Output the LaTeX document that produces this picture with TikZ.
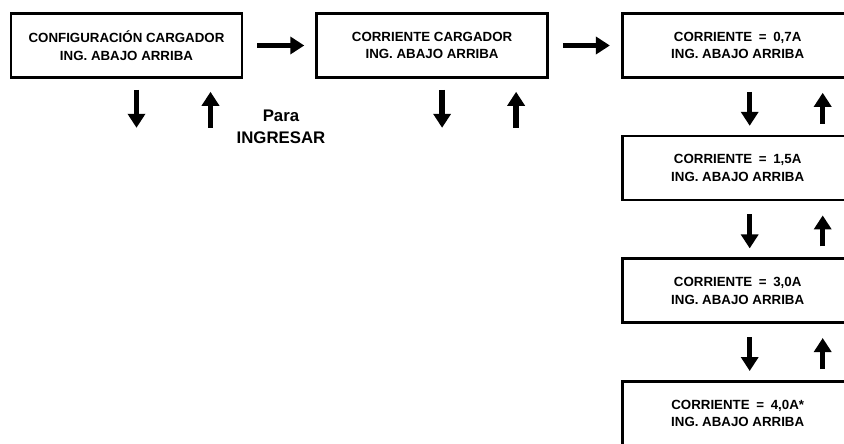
\documentclass[tikz,border=0pt]{standalone}
\usepackage{fontspec}
\setmainfont{Liberation Sans}
\usetikzlibrary{positioning,arrows.meta}

\begin{document}
\begin{tikzpicture}[x=1pt,y=-1pt,
  every node/.style={font=\bfseries\fontsize{13.3}{17.5}\selectfont,align=center},
  menu/.style={draw,line width=2.6pt,minimum width=231pt,minimum height=64pt,inner sep=2pt},
  flecha/.style={line width=5.5pt,-{Triangle[length=14pt,width=17pt]}},
  node distance=56pt and 72pt
]
  \clip (0,0) rectangle (844,444);
  \node[menu] (config) at (126.5,45.5) {CONFIGURACIÓN CARGADOR\\ING. ABAJO ARRIBA};
  \node[menu,right=of config] (corriente) {CORRIENTE CARGADOR\\ING. ABAJO ARRIBA};
  \node[menu,right=of corriente] (c07) {CORRIENTE\enspace=\enspace0,7A\\ING. ABAJO ARRIBA};
  \node[menu,below=of c07] (c15) {CORRIENTE\enspace=\enspace1,5A\\ING. ABAJO ARRIBA};
  \node[menu,below=of c15] (c30) {CORRIENTE\enspace=\enspace3,0A\\ING. ABAJO ARRIBA};
  \node[menu,below=of c30] (c40) {CORRIENTE\enspace=\enspace4,0A*\\ING. ABAJO ARRIBA};

  \node[font=\bfseries\fontsize{16.8}{22}\selectfont] (ingresar) at (281,127) {Para\\INGRESAR};

  % flechas horizontales
  \draw[flecha] ([xshift=14pt]config.east) -- ([xshift=-11pt]corriente.west);
  \draw[flecha] ([xshift=14pt]corriente.east) -- ([xshift=-11pt]c07.west);

  % abajo / arriba bajo los menus
  \foreach \m in {config,corriente}{
    \draw[flecha] ([xshift=10pt,yshift=-11pt]\m.south) -- ([xshift=10pt,yshift=-49pt]\m.south);
    \draw[flecha] ([xshift=84pt,yshift=-49pt]\m.south) -- ([xshift=84pt,yshift=-13pt]\m.south);
  }
  \foreach \a/\b in {c07/c15,c15/c30,c30/c40}{
    \draw[flecha] ([xshift=12pt,yshift=-13pt]\a.south) -- ([xshift=12pt,yshift=9pt]\b.north);
    \draw[flecha] ([xshift=85pt,yshift=11pt]\b.north) -- ([xshift=85pt,yshift=-14pt]\a.south);
  }
\end{tikzpicture}
\end{document}
